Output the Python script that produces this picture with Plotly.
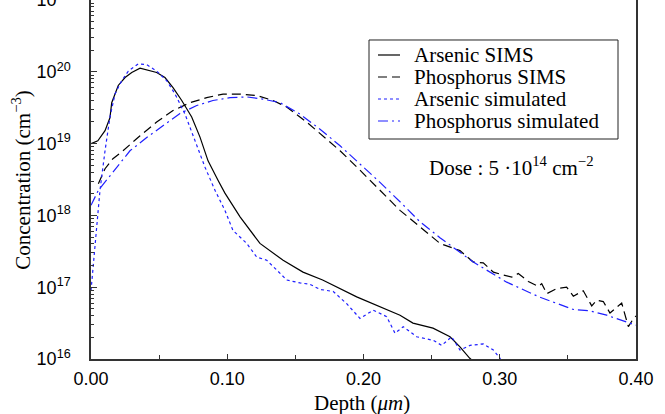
import plotly.graph_objects as go

# ---- data (depth in µm, log10 concentration in cm^-3) ----
as_sims_depth = [0.0, 0.005, 0.0103, 0.0139, 0.0152, 0.020, 0.025, 0.0299, 0.036, 0.0418, 0.0482,
                 0.0543, 0.0602, 0.0666, 0.0739, 0.080, 0.0859, 0.0932, 0.0983, 0.1094, 0.124,
                 0.141, 0.1556, 0.170, 0.190, 0.195, 0.2268, 0.2363, 0.251, 0.2635, 0.2708, 0.278, 0.285]
as_sims_log = [19.0, 19.04, 19.18, 19.36, 19.57, 19.81, 19.92, 19.99, 20.05, 20.02, 19.99,
               19.92, 19.78, 19.60, 19.37, 19.09, 18.76, 18.49, 18.31, 17.98, 17.61,
               17.375, 17.21, 17.10, 16.92, 16.865, 16.61, 16.50, 16.43, 16.31, 16.17, 16.01, 15.9]

p_sims_depth = [0.0054, 0.0103, 0.0161, 0.0235, 0.036, 0.0482, 0.0602, 0.0727, 0.0849, 0.0969,
                0.1094, 0.1216, 0.1336, 0.1436, 0.1583, 0.1681, 0.1828, 0.1974, 0.2121, 0.2268,
                0.2415, 0.2561, 0.2708, 0.2806, 0.2879, 0.2953, 0.3026, 0.3088, 0.3136, 0.3210,
                0.3283, 0.3308, 0.3345, 0.3418, 0.3491, 0.3540, 0.3613, 0.3675, 0.3712, 0.3760,
                0.3809, 0.3895, 0.3944, 0.3980, 0.400]
p_sims_log = [18.44, 18.65, 18.79, 18.90, 19.11, 19.30, 19.46, 19.57, 19.64, 19.69,
              19.69, 19.67, 19.60, 19.51, 19.30, 19.14, 18.90, 18.63, 18.35, 18.07,
              17.84, 17.61, 17.51, 17.35, 17.34, 17.21, 17.17, 17.14, 17.19, 17.08,
              17.01, 17.05, 16.91, 16.98, 17.00, 16.875, 16.95, 16.74, 16.82, 16.80,
              16.64, 16.78, 16.45, 16.56, 16.6]

as_sim_depth = [0.0, 0.0017, 0.0029, 0.0042, 0.0054, 0.0066, 0.0103, 0.0139, 0.0176, 0.0225,
                0.0274, 0.0347, 0.0409, 0.0482, 0.0556, 0.0617, 0.069, 0.0763, 0.0837, 0.091,
                0.0983, 0.1042, 0.1143, 0.1216, 0.129, 0.1363, 0.1436, 0.1534, 0.1607, 0.168,
                0.1778, 0.1877, 0.1974, 0.2072, 0.217, 0.2231, 0.2292, 0.239, 0.2512, 0.2574,
                0.2647, 0.2708, 0.2782, 0.2879, 0.2953, 0.3002, 0.302]
as_sim_log = [16.95, 17.31, 17.56, 17.93, 18.12, 18.35, 18.90, 19.37, 19.69, 19.875,
              20.01, 20.11, 20.10, 20.01, 19.875, 19.69, 19.41, 19.04, 18.67, 18.35,
              18.07, 17.79, 17.61, 17.42, 17.375, 17.24, 17.10, 17.06, 17.04, 16.97,
              16.94, 16.77, 16.565, 16.68, 16.59, 16.36, 16.45, 16.31, 16.26, 16.19,
              16.31, 16.125, 16.19, 16.21, 16.125, 16.01, 15.9]

p_sim_depth = [0.0, 0.0054, 0.0152, 0.0286, 0.0409, 0.0528, 0.0653, 0.0776, 0.0895, 0.1020,
               0.1143, 0.1262, 0.1387, 0.1534, 0.1681, 0.1828, 0.1974, 0.2121, 0.2268, 0.2415,
               0.2561, 0.2806, 0.3051, 0.3295, 0.3540, 0.3662, 0.3785, 0.3932, 0.400]
p_sim_log = [18.14, 18.35, 18.58, 18.90, 19.085, 19.25, 19.42, 19.53, 19.60, 19.64,
             19.65, 19.62, 19.57, 19.41, 19.20, 18.97, 18.72, 18.46, 18.19, 17.91,
             17.69, 17.35, 17.07, 16.86, 16.69, 16.67, 16.61, 16.52, 16.47]

x_tick_vals = [0.0, 0.1, 0.2, 0.3, 0.4]
x_tick_text = ["0.00", "0.10", "0.20", "0.30", "0.40"]
y_tick_exps = [16, 17, 18, 19, 20, 21]

series_names = ["Arsenic SIMS", "Phosphorus SIMS", "Arsenic simulated", "Phosphorus simulated"]


def to_lin(v):
    return [10.0 ** a for a in v]


BLUE = "#1f1fff"
styles = [("black", "solid"), ("black", "9px,5px"), (BLUE, "dot"), (BLUE, "10px,4px,2px,4px")]
series = [(as_sims_depth, as_sims_log), (p_sims_depth, p_sims_log),
          (as_sim_depth, as_sim_log), (p_sim_depth, p_sim_log)]

fig = go.Figure()
for (xs, ys), name, (col, dash) in zip(series, series_names, styles):
    fig.add_trace(go.Scatter(x=xs, y=to_lin(ys), mode="lines", name=name, showlegend=False,
                             line=dict(color=col, width=1.2, dash=dash)))

SERIF = "Liberation Serif"

# legend drawn as a framed key (paper coordinates)
shapes = [dict(type="rect", xref="paper", yref="paper", x0=0.5101, x1=0.9670, y0=0.6128, y1=0.8886,
               line=dict(color="#222", width=1), fillcolor="white", layer="above")]
annotations = []
row_y = [0.8468, 0.7855, 0.7242, 0.6630]
for yy, name, (col, dash) in zip(row_y, series_names, styles):
    shapes.append(dict(type="line", xref="paper", yref="paper", x0=0.5266, x1=0.5670, y0=yy, y1=yy,
                       line=dict(color=col, width=1.2, dash=dash), layer="above"))
    annotations.append(dict(x=0.5884, y=yy, xref="paper", yref="paper", xanchor="left",
                            yanchor="middle", showarrow=False, text=name,
                            font=dict(family=SERIF, size=21, color="black")))
annotations.append(dict(x=0.7706, y=0.536, xref="paper", yref="paper", showarrow=False,
                        xanchor="center", yanchor="middle",
                        text="Dose : 5 ·10<sup>14</sup> cm<sup>−2</sup>",
                        font=dict(family=SERIF, size=21, color="black")))
# axis titles
annotations.append(dict(x=0.497, y=-0.1226, xref="paper", yref="paper", showarrow=False,
                        xanchor="center", yanchor="middle", text="Depth (<i>μm</i>)",
                        font=dict(family=SERIF, size=21, color="black")))
annotations.append(dict(x=-0.128, y=0.5, xref="paper", yref="paper", showarrow=False,
                        xanchor="center", yanchor="middle", textangle=-90,
                        text="Concentration (cm<sup>−3</sup>)",
                        font=dict(family=SERIF, size=21, color="black")))

fig.update_layout(
    width=665, height=414,
    margin=dict(l=91, r=29, t=0, b=55),
    plot_bgcolor="white", paper_bgcolor="white",
    showlegend=False,
    shapes=shapes,
    annotations=annotations,
)
fig.update_xaxes(range=[0, 0.4], tickvals=x_tick_vals, ticktext=x_tick_text,
                 ticks="inside", ticklen=5, tickcolor="#333", automargin=False,
                 minor=dict(ticks="inside", ticklen=4, dtick=0.05, tick0=0, tickcolor="#333"),
                 showline=True, linecolor="#333", linewidth=1.5, mirror=False,
                 showgrid=False, zeroline=False, ticklabelstandoff=3,
                 tickfont=dict(family="Liberation Sans", size=18, color="black"))
fig.update_yaxes(type="log", range=[16, 21.0],
                 tickvals=[10.0 ** e for e in y_tick_exps],
                 ticktext=["10<sup>%d</sup>" % e for e in y_tick_exps],
                 ticks="inside", ticklen=6, tickcolor="#333", automargin=False,
                 minor=dict(ticks="inside", ticklen=3, dtick="D1", tickcolor="#333"),
                 showline=True, linecolor="#333", linewidth=1.5, mirror=True,
                 showgrid=False, zeroline=False, ticklabelstandoff=15,
                 ticklabeloverflow="allow",
                 tickfont=dict(family="Liberation Sans", size=18, color="black"))

fig.write_html("out.html", config={"displayModeBar": False},
               post_script="document.body.style.margin='0';document.body.style.padding='0';")
